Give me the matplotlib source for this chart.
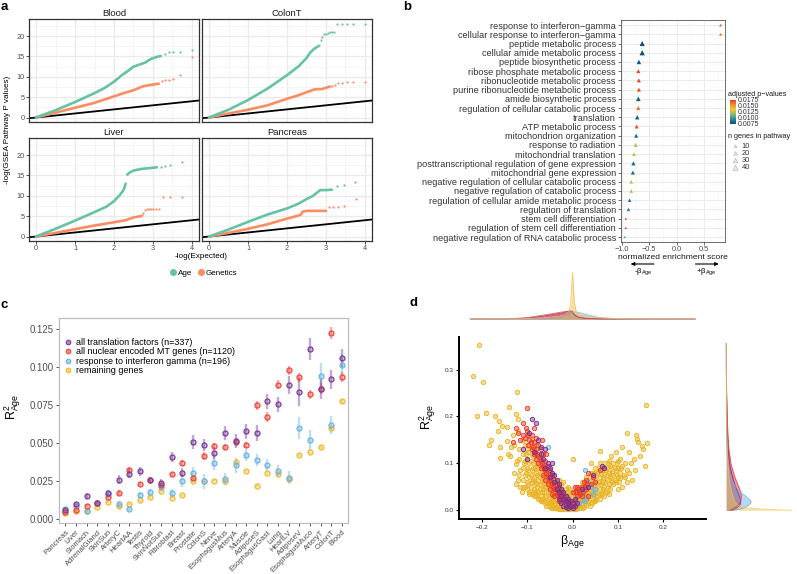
import numpy as np
import matplotlib
matplotlib.use('Agg')
import matplotlib.pyplot as plt
from matplotlib.colors import LinearSegmentedColormap, to_rgba
from matplotlib.lines import Line2D

plt.rcParams['font.family'] = ['Liberation Sans', 'DejaVu Sans']
plt.rcParams['mathtext.fontset'] = 'custom'
plt.rcParams['mathtext.rm'] = 'Liberation Sans'
plt.rcParams['mathtext.it'] = 'Liberation Sans:italic'
plt.rcParams['mathtext.bf'] = 'Liberation Sans:bold'
plt.rcParams['mathtext.default'] = 'regular'

nan = np.nan
W, H = 797, 574

# ---------------- Panel a data (QQ curves) ----------------
facets = ['Blood', 'ColonT', 'Liver', 'Pancreas']
blood_age_x = [0, 0.25, 0.5, 0.75, 1.0, 1.25, 1.5, 1.75, 2.0, 2.2, 2.35, 2.5, 2.65, 2.8, 2.95, 3.1, 3.2]
blood_age_y = [0, 0.9, 1.8, 2.8, 3.8, 4.9, 6.0, 7.2, 8.8, 10.4, 11.4, 12.5, 13.0, 13.5, 14.4, 14.9, 15.1]
blood_age_tx = [3.3, 3.4, 3.52, 3.7, 4.0]
blood_age_ty = [15.5, 16.2, 16.2, 16.2, 16.7]
blood_gen_x = [0, 0.5, 1.0, 1.5, 2.0, 2.25, 2.5, 2.75, 3.0, 3.15]
blood_gen_y = [0, 1.2, 2.4, 3.6, 5.2, 6.0, 6.7, 7.7, 8.1, 8.3]
blood_gen_tx = [3.22, 3.3, 3.4, 3.52, 3.7, 4.0]
blood_gen_ty = [9.0, 9.1, 9.2, 9.4, 10.4, 14.8]

colont_age_x = [0, 0.5, 1.0, 1.5, 2.0, 2.3, 2.5, 2.6, 2.7, 2.8]
colont_age_y = [0, 1.9, 4.3, 7.1, 10.4, 12.6, 14.6, 16.0, 16.9, 17.5]
colont_age_tx = [2.83, 2.87, 2.9, 2.95, 3.0, 3.05, 3.1, 3.15, 3.2, 3.29, 3.41, 3.53, 3.68, 4.0]
colont_age_ty = [17.8, 19.0, 19.9, 20.4, 20.6, 20.8, 20.9, 21.0, 21.0, 23.0, 23.0, 23.0, 23.0, 23.0]
colont_gen_x = [0, 0.5, 1.0, 1.5, 2.0, 2.3, 2.5, 2.7, 2.9, 3.0, 3.1]
colont_gen_y = [0, 1.0, 1.9, 3.0, 4.6, 5.5, 6.2, 6.9, 7.0, 7.3, 7.6]
colont_gen_tx = [3.15, 3.22, 3.3, 3.41, 3.53, 3.68, 4.0]
colont_gen_ty = [7.8, 8.0, 8.4, 8.6, 8.7, 8.8, 8.8]

liver_age_x = [0, 0.5, 1.0, 1.5, 1.8, 2.0, 2.15, 2.25, 2.3, nan, 2.34, 2.4, 2.5, 2.7, 3.0, 3.1]
liver_age_y = [0, 1.9, 3.9, 6.0, 7.3, 8.7, 10.2, 11.5, 13.0, nan, 15.2, 15.7, 16.2, 16.6, 16.9, 17.0]
liver_age_tx = [3.2, 3.3, 3.44, 3.74]
liver_age_ty = [17.1, 17.3, 17.5, 18.4]
liver_gen_x = [0, 0.5, 1.0, 1.5, 2.0, 2.3, 2.5, 2.7]
liver_gen_y = [0, 0.9, 1.8, 2.7, 3.5, 4.0, 4.7, 5.0]
liver_gen_tx = [2.72, 2.75, 2.8, 2.85, 2.9, 2.95, 3.0, 3.08, 3.15, 3.25, 3.44, 3.74]
liver_gen_ty = [5.3, 5.9, 6.6, 6.7, 6.7, 6.7, 6.7, 6.7, 6.8, 9.8, 9.8, 9.8]

pancreas_age_x = [0, 0.5, 1.0, 1.5, 2.0, 2.3, 2.5, 2.65, 2.8, 2.85, 3.0, 3.15]
pancreas_age_y = [0, 1.7, 3.6, 5.4, 6.9, 8.1, 9.2, 9.9, 11.0, 11.4, 11.4, 11.5]
pancreas_age_tx = [3.28, 3.47, 3.75]
pancreas_age_ty = [12.4, 12.7, 13.3]
pancreas_gen_x = [0, 0.5, 1.0, 1.5, 2.0, 2.2, 2.35, 2.4, 2.5, 3.0]
pancreas_gen_y = [0, 0.9, 1.9, 3.0, 4.4, 4.9, 5.3, 6.1, 6.3, 6.3]
pancreas_gen_tx = [3.07, 3.17, 3.3, 3.47, 3.77]
pancreas_gen_ty = [7.2, 7.2, 7.3, 7.5, 9.2]

# ---------------- Panel b data ----------------
terms = ['response to interferon\u2212gamma', 'cellular response to interferon\u2212gamma',
         'peptide metabolic process', 'cellular amide metabolic process',
         'peptide biosynthetic process', 'ribose phosphate metabolic process',
         'ribonucleotide metabolic process', 'purine ribonucleotide metabolic process',
         'amide biosynthetic process', 'regulation of cellular catabolic process',
         'translation', 'ATP metabolic process', 'mitochondrion organization',
         'response to radiation', 'mitochondrial translation',
         'posttranscriptional regulation of gene expression', 'mitochondrial gene expression',
         'negative regulation of cellular catabolic process', 'negative regulation of catabolic process',
         'regulation of cellular amide metabolic process', 'regulation of translation',
         'stem cell differentiation', 'regulation of stem cell differentiation',
         'negative regulation of RNA catabolic process']
nes = [0.80, 0.80, -0.63, -0.63, -0.69, -0.70, -0.69, -0.69, -0.70, -0.70, -0.72, -0.73,
       -0.74, -0.75, -0.78, -0.79, -0.80, -0.83, -0.83, -0.86, -0.88, -0.93, -0.93, -0.95]
padj = [0.0160, 0.0160, 0.0075, 0.0076, 0.0078, 0.0172, 0.0172, 0.0170, 0.0080, 0.0160, 0.0082, 0.0170,
        0.0085, 0.0123, 0.0126, 0.0085, 0.0085, 0.0125, 0.0125, 0.0088, 0.0088, 0.0175, 0.0175, 0.0090]
ngenes = [14, 14, 42, 44, 32, 26, 26, 26, 34, 28, 30, 24, 26, 24, 24, 28, 26, 22, 22, 20, 18, 8, 8, 6]

# ---------------- Panel c data ----------------
tissues = ['Pancreas', 'Liver', 'Stomach', 'AdrenalGland', 'SkinSun', 'ArteryC', 'HeartAA', 'Testis',
           'Thyroid', 'SkinNotSun', 'Fibroblast', 'Breast', 'Prostate', 'ColonS', 'Nerve', 'EsophagusMus',
           'ArteryA', 'Muscle', 'AdiposeS', 'EsophagusGast', 'Lung', 'HeartLV', 'AdiposeV', 'EsophagusMuco',
           'ArteryT', 'ColonT', 'Blood']
trans_r2 = [0.006, 0.0098, 0.0155, 0.0105, 0.0175, 0.026, 0.030, 0.0315, 0.026, 0.0237, 0.041, 0.0307,
            0.051, 0.049, 0.0435, 0.057, 0.0515, 0.058, 0.0567, 0.0777, 0.0757, 0.0883, 0.0837, 0.112,
            0.0857, 0.092, 0.1063]
trans_err = [0.001, 0.0015, 0.002, 0.0015, 0.0015, 0.003, 0.003, 0.003, 0.002, 0.003, 0.003, 0.003,
             0.0045, 0.004, 0.004, 0.0045, 0.0045, 0.005, 0.0055, 0.005, 0.005, 0.0057, 0.009, 0.0075,
             0.0066, 0.006, 0.006]
mt_r2 = [0.005, 0.006, 0.009, 0.0108, 0.015, 0.0175, 0.0325, 0.0232, 0.0262, 0.0225, 0.0295, 0.037,
         0.027, 0.0415, 0.0485, 0.0473, 0.051, 0.049, 0.075, 0.0673, 0.0885, 0.098, 0.0935, 0.0823,
         0.086, 0.1225, 0.0935]
mt_err = [0.0008, 0.001, 0.001, 0.001, 0.0012, 0.0015, 0.002, 0.0015, 0.0015, 0.0015, 0.0015, 0.002,
          0.002, 0.0025, 0.002, 0.002, 0.0025, 0.002, 0.003, 0.003, 0.003, 0.003, 0.003, 0.003,
          0.0035, 0.004, 0.0035]
ifn_r2 = [0.0065, 0.0085, 0.0053, 0.011, 0.0165, 0.0102, 0.0067, 0.016, 0.018, 0.021, 0.0173, 0.0255,
          0.0305, 0.025, 0.0373, 0.0265, 0.0355, 0.0423, 0.039, 0.036, 0.032, 0.0275, 0.060, 0.052,
          0.0943, 0.062, 0.1015]
ifn_err = [0.001, 0.0015, 0.001, 0.0015, 0.002, 0.002, 0.0015, 0.002, 0.002, 0.002, 0.0025, 0.004,
           0.004, 0.005, 0.005, 0.004, 0.005, 0.004, 0.004, 0.004, 0.004, 0.004, 0.007, 0.007,
           0.0088, 0.006, 0.007]
rem_r2 = [0.004, 0.0055, 0.0053, 0.0078, 0.0115, 0.0088, 0.010, 0.0125, 0.0147, 0.0185, 0.0142, 0.0157,
          0.025, 0.025, 0.0255, 0.0255, 0.038, 0.032, 0.022, 0.0307, 0.0295, 0.0265, 0.0423, 0.044,
          0.0473, 0.060, 0.0777]
rem_err = [0.0005] * 24 + [0.0008, 0.0015, 0.001]

# ---------------- Panel d data ----------------
yellow_pts = [
    (-0.205, 0.352), (-0.22, 0.287), (-0.197, 0.273), (-0.122, 0.252), (0.162, 0.224), (-0.21, 0.2),
    (-0.19, 0.207), (-0.139, 0.22), (-0.17, 0.202), (-0.162, 0.19), (-0.155, 0.18), (-0.145, 0.178),
    (-0.125, 0.206), (-0.12, 0.195), (-0.185, 0.139), (-0.18, 0.15), (-0.165, 0.168), (-0.16, 0.135),
    (-0.16, 0.112), (-0.145, 0.147), (-0.142, 0.12), (-0.138, 0.115), (-0.125, 0.098), (-0.12, 0.17),
    (-0.13, 0.16), (-0.135, 0.135), (-0.128, 0.14), (-0.128, 0.08), (-0.118, 0.13), (-0.118, 0.11),
    (-0.115, 0.085), (-0.12, 0.065), (-0.115, 0.05), (-0.125, 0.055),
    (0.14, 0.16), (0.142, 0.152), (0.165, 0.143), (0.145, 0.145), (0.12, 0.165), (0.155, 0.13),
    (0.148, 0.115), (0.152, 0.137), (0.16, 0.095), (0.138, 0.085), (0.128, 0.1), (0.125, 0.125),
    (0.12, 0.085), (0.11, 0.135), (0.105, 0.11), (0.1, 0.09), (0.095, 0.125), (0.085, 0.115),
    (0.09, 0.075), (0.13, 0.065), (0.12, 0.06), (0.11, 0.05), (0.105, 0.068), (0.1, 0.045),
    (0.125, 0.08), (0.135, 0.11), (0.0, 0.109), (0.06, 0.126),
    (-0.11, 0.15), (-0.11, 0.12), (-0.11, 0.09), (-0.11, 0.065), (-0.108, 0.05), (-0.105, 0.14),
    (-0.105, 0.105), (-0.105, 0.075), (-0.1, 0.16), (-0.1, 0.13), (-0.1, 0.11), (-0.1, 0.09),
    (-0.1, 0.06), (-0.1, 0.045), (-0.095, 0.14), (-0.095, 0.1), (-0.095, 0.07), (-0.095, 0.04),
    (-0.09, 0.15), (-0.09, 0.12), (-0.09, 0.085), (-0.09, 0.06), (-0.09, 0.035), (-0.085, 0.13),
    (-0.085, 0.1), (-0.085, 0.07), (-0.085, 0.045), (-0.085, 0.03), (-0.08, 0.14), (-0.08, 0.11),
    (-0.08, 0.08), (-0.08, 0.055), (-0.08, 0.03), (-0.075, 0.12), (-0.075, 0.09), (-0.075, 0.065),
    (-0.075, 0.04), (-0.075, 0.025), (-0.07, 0.11), (-0.07, 0.08), (-0.07, 0.055), (-0.07, 0.03),
    (-0.07, 0.02), (-0.065, 0.1), (-0.065, 0.07), (-0.065, 0.045), (-0.065, 0.025), (-0.06, 0.095),
    (-0.06, 0.075), (-0.06, 0.05), (-0.06, 0.03), (-0.06, 0.015), (-0.055, 0.085), (-0.055, 0.06),
    (-0.055, 0.04), (-0.055, 0.02), (-0.05, 0.08), (-0.05, 0.055), (-0.05, 0.035), (-0.05, 0.015),
    (-0.045, 0.07), (-0.045, 0.045), (-0.045, 0.025), (-0.045, 0.01), (-0.04, 0.075), (-0.04, 0.05),
    (-0.04, 0.03), (-0.04, 0.012), (-0.035, 0.06), (-0.035, 0.04), (-0.035, 0.02), (-0.035, 0.008),
    (-0.03, 0.065), (-0.03, 0.045), (-0.03, 0.025), (-0.03, 0.008), (-0.025, 0.055), (-0.025, 0.035),
    (-0.025, 0.015), (-0.02, 0.06), (-0.02, 0.04), (-0.02, 0.02), (-0.02, 0.005), (-0.015, 0.045),
    (-0.015, 0.025), (-0.015, 0.008), (-0.01, 0.05), (-0.01, 0.03), (-0.01, 0.01), (-0.005, 0.035),
    (-0.005, 0.015), (-0.005, 0.003), (0.0, 0.04), (0.0, 0.02), (0.0, 0.005),
    (0.005, 0.03), (0.005, 0.01), (0.01, 0.045), (0.01, 0.02), (0.01, 0.005), (0.015, 0.05),
    (0.015, 0.03), (0.015, 0.01), (0.02, 0.06), (0.02, 0.035), (0.02, 0.015), (0.025, 0.045),
    (0.025, 0.025), (0.025, 0.008), (0.03, 0.07), (0.03, 0.05), (0.03, 0.03), (0.03, 0.012),
    (0.035, 0.06), (0.035, 0.04), (0.035, 0.02), (0.04, 0.08), (0.04, 0.055), (0.04, 0.035),
    (0.04, 0.015), (0.045, 0.07), (0.045, 0.045), (0.045, 0.025), (0.05, 0.09), (0.05, 0.065),
    (0.05, 0.04), (0.05, 0.02), (0.055, 0.08), (0.055, 0.055), (0.055, 0.03), (0.06, 0.1),
    (0.06, 0.07), (0.06, 0.045), (0.06, 0.025), (0.065, 0.085), (0.065, 0.06), (0.065, 0.035),
    (0.07, 0.1), (0.07, 0.075), (0.07, 0.05), (0.07, 0.03), (0.075, 0.09), (0.075, 0.065),
    (0.075, 0.04), (0.08, 0.105), (0.08, 0.08), (0.08, 0.055), (0.08, 0.035), (0.085, 0.09),
    (0.085, 0.065), (0.09, 0.1), (0.09, 0.055), (0.095, 0.085), (0.095, 0.06), (0.1, 0.07),
    (0.1, 0.105), (0.105, 0.08), (0.11, 0.095), (0.115, 0.07), (0.04, 0.1),
    (-0.1075, 0.1), (-0.1025, 0.08), (-0.1025, 0.12), (-0.0975, 0.055), (-0.0975, 0.085),
    (-0.0975, 0.125), (-0.0925, 0.05), (-0.0925, 0.075), (-0.0925, 0.105), (-0.0925, 0.135),
    (-0.0875, 0.04), (-0.0875, 0.065), (-0.0875, 0.09), (-0.0875, 0.115), (-0.0825, 0.04),
    (-0.0825, 0.06), (-0.0825, 0.09), (-0.0825, 0.12), (-0.0775, 0.035), (-0.0775, 0.05),
    (-0.0775, 0.075), (-0.0775, 0.1), (-0.0725, 0.025), (-0.0725, 0.045), (-0.0725, 0.07),
    (-0.0725, 0.095), (-0.0675, 0.02), (-0.0675, 0.04), (-0.0675, 0.06), (-0.0675, 0.085),
    (-0.0625, 0.02), (-0.0625, 0.04), (-0.0625, 0.06), (-0.0625, 0.085), (-0.0575, 0.01),
    (-0.0575, 0.03), (-0.0575, 0.05), (-0.0575, 0.07), (-0.0525, 0.01), (-0.0525, 0.025),
    (-0.0525, 0.045), (-0.0525, 0.07), (-0.0475, 0.005), (-0.0475, 0.02), (-0.0475, 0.04),
    (-0.0475, 0.06), (-0.0425, 0.005), (-0.0425, 0.02), (-0.0425, 0.04), (-0.0425, 0.06),
    (-0.0375, 0.005), (-0.0375, 0.015), (-0.0375, 0.03), (-0.0375, 0.05), (-0.0325, 0.003),
    (-0.0325, 0.015), (-0.0325, 0.035), (-0.0325, 0.055), (-0.0275, 0.003), (-0.0275, 0.02),
    (-0.0275, 0.045), (-0.0225, 0.003), (-0.0225, 0.025), (-0.0225, 0.045), (-0.0175, 0.003),
    (-0.0175, 0.015), (-0.0175, 0.035), (-0.0125, 0.002), (-0.0125, 0.02), (-0.0125, 0.04),
    (-0.0075, 0.002), (-0.0075, 0.025), (-0.0075, 0.045), (-0.0025, 0.01), (-0.0025, 0.03),
    (0.0025, 0.002), (0.0025, 0.02), (0.0025, 0.04), (0.0075, 0.002), (0.0075, 0.015),
    (0.0075, 0.035), (0.0125, 0.01), (0.0125, 0.025), (0.0125, 0.04), (0.0175, 0.005),
    (0.0175, 0.02), (0.0175, 0.04), (0.0225, 0.005), (0.0225, 0.025), (0.0225, 0.05),
    (0.0275, 0.015), (0.0275, 0.035), (0.0275, 0.055), (0.0325, 0.02), (0.0325, 0.04),
    (0.0325, 0.06), (0.0375, 0.01), (0.0375, 0.03), (0.0375, 0.05), (0.0375, 0.07),
    (0.0425, 0.015), (0.0425, 0.04), (0.0425, 0.06), (0.0425, 0.08), (0.0475, 0.02),
    (0.0475, 0.035), (0.0475, 0.055), (0.0475, 0.08), (0.0525, 0.025), (0.0525, 0.045),
    (0.0525, 0.075), (0.0575, 0.035), (0.0575, 0.06), (0.0575, 0.09), (0.0625, 0.035),
    (0.0625, 0.055), (0.0625, 0.08), (0.0675, 0.045), (0.0675, 0.07), (0.0675, 0.09),
    (0.0725, 0.04), (0.0725, 0.06), (0.0725, 0.085), (0.0775, 0.05), (0.0775, 0.075),
    (0.0775, 0.1), (0.0825, 0.045), (0.0825, 0.07), (0.0825, 0.095), (0.0875, 0.06),
    (0.0875, 0.08), (0.0925, 0.065), (0.0925, 0.09), (0.0975, 0.075), (0.0975, 0.1),
    (0.1025, 0.06), (0.1075, 0.09), (0.1125, 0.075), (0.115, 0.1), (-0.105, 0.05),
    (-0.112, 0.04), (-0.095, 0.035), (-0.118, 0.075), (-0.122, 0.105)]
red_pts = [
    (-0.1, 0.217), (-0.125, 0.175), (-0.12, 0.165), (-0.11, 0.185), (-0.105, 0.155), (-0.1, 0.17),
    (-0.095, 0.15), (-0.098, 0.14), (-0.09, 0.16), (-0.09, 0.13), (-0.085, 0.145), (-0.085, 0.12),
    (-0.08, 0.155), (-0.08, 0.13), (-0.08, 0.11), (-0.075, 0.14), (-0.075, 0.115), (-0.075, 0.1),
    (-0.07, 0.13), (-0.07, 0.105), (-0.07, 0.09), (-0.065, 0.12), (-0.065, 0.095), (-0.065, 0.075),
    (-0.06, 0.105), (-0.06, 0.085), (-0.06, 0.065), (-0.055, 0.095), (-0.055, 0.075), (-0.055, 0.055),
    (-0.05, 0.085), (-0.05, 0.065), (-0.05, 0.045), (-0.045, 0.075), (-0.045, 0.055), (-0.045, 0.035),
    (-0.04, 0.065), (-0.04, 0.045), (-0.04, 0.03), (-0.035, 0.055), (-0.035, 0.035), (-0.03, 0.05),
    (-0.03, 0.03), (-0.03, 0.02), (-0.025, 0.04), (-0.025, 0.025), (-0.02, 0.035), (-0.02, 0.02),
    (-0.015, 0.03), (-0.015, 0.015), (-0.01, 0.025), (-0.01, 0.01), (-0.005, 0.02), (0.0, 0.01),
    (0.005, 0.02), (0.01, 0.03), (0.01, 0.05), (0.015, 0.04), (0.02, 0.05), (0.02, 0.03),
    (0.025, 0.06), (0.03, 0.045), (0.03, 0.065), (0.035, 0.08), (0.04, 0.055), (0.045, 0.07),
    (0.05, 0.06), (0.06, 0.085), (0.035, 0.03), (-0.13, 0.145), (-0.085, 0.175), (0.0, 0.04),
    (0.005, 0.05), (-0.068, 0.15), (-0.058, 0.12),
    (-0.0925, 0.145), (-0.0875, 0.135), (-0.0825, 0.125), (-0.0775, 0.12), (-0.0725, 0.11),
    (-0.0675, 0.1), (-0.0625, 0.09), (-0.0575, 0.08), (-0.0525, 0.07), (-0.0475, 0.06),
    (-0.0425, 0.05), (-0.0375, 0.045), (-0.0325, 0.04), (-0.0275, 0.035), (-0.0225, 0.03),
    (-0.0175, 0.025), (-0.0125, 0.02), (-0.0075, 0.015), (0.0075, 0.04), (0.0125, 0.045),
    (0.0175, 0.035), (0.0225, 0.04), (0.0275, 0.05), (0.0325, 0.055), (-0.0975, 0.16),
    (-0.1025, 0.175), (-0.11, 0.16), (-0.115, 0.15)]
purple_pts = [
    (-0.09, 0.195), (-0.08, 0.186), (-0.095, 0.165), (-0.075, 0.15), (-0.07, 0.135), (-0.085, 0.125),
    (-0.06, 0.13), (-0.065, 0.11), (-0.055, 0.1), (-0.06, 0.09), (-0.05, 0.09), (-0.045, 0.08),
    (-0.05, 0.07), (-0.04, 0.075), (-0.04, 0.06), (-0.035, 0.065), (-0.035, 0.045), (-0.03, 0.055),
    (-0.03, 0.04), (-0.03, 0.025), (-0.025, 0.045), (-0.025, 0.03), (-0.025, 0.015), (-0.02, 0.04),
    (-0.02, 0.025), (-0.02, 0.01), (-0.015, 0.03), (-0.015, 0.02), (-0.015, 0.008), (-0.01, 0.025),
    (-0.01, 0.015), (-0.01, 0.005), (-0.005, 0.02), (-0.005, 0.01), (0.0, 0.015), (0.0, 0.005),
    (0.005, 0.01), (0.005, 0.025), (0.01, 0.015), (-0.045, 0.1), (-0.07, 0.12), (0.045, 0.075),
    (0.065, 0.095), (0.07, 0.09), (0.035, 0.05), (-0.1, 0.11), (-0.11, 0.13), (0.02, 0.045)]
blue_pts = [
    (0.01, 0.03), (0.02, 0.04), (0.03, 0.025), (0.04, 0.05), (0.045, 0.035), (-0.005, 0.02),
    (0.025, 0.02), (0.035, 0.06), (0.05, 0.045), (-0.055, 0.135), (-0.02, 0.03), (0.015, 0.015),
    (0.028, 0.085)]

# marginal densities (relative heights)
beta_grid = [-0.225, -0.15, -0.1, -0.06, -0.03, -0.015, -0.008, -0.004, -0.002, 0.0, 0.002, 0.004,
             0.008, 0.015, 0.03, 0.06, 0.1, 0.15, 0.2, 0.27]
dens_beta_yellow = [0, 0.003, 0.01, 0.03, 0.06, 0.09, 0.16, 0.35, 0.7, 1.0, 0.7, 0.35, 0.16, 0.09,
                    0.06, 0.03, 0.01, 0.004, 0.001, 0]
dens_beta_red = [0, 0.002, 0.03, 0.09, 0.14, 0.16, 0.16, 0.15, 0.15, 0.14, 0.12, 0.1, 0.07, 0.04,
                 0.015, 0.003, 0, 0, 0, 0]
dens_beta_purple = [0, 0, 0.02, 0.07, 0.12, 0.15, 0.17, 0.17, 0.17, 0.16, 0.12, 0.09, 0.06, 0.03,
                    0.01, 0.002, 0, 0, 0, 0]
dens_beta_blue = [0, 0, 0, 0.005, 0.03, 0.07, 0.1, 0.12, 0.13, 0.14, 0.15, 0.15, 0.15, 0.14, 0.1,
                  0.03, 0.005, 0, 0, 0]
r2_grid = [0, 0.002, 0.005, 0.01, 0.015, 0.02, 0.03, 0.04, 0.06, 0.08, 0.1, 0.13, 0.16, 0.2, 0.25,
           0.3, 0.355]
dens_r2_yellow = [1.0, 0.6, 0.3, 0.18, 0.15, 0.12, 0.1, 0.08, 0.05, 0.035, 0.025, 0.015, 0.01,
                  0.006, 0.004, 0.002, 0]
dens_r2_blue = [0.1, 0.2, 0.27, 0.33, 0.37, 0.38, 0.3, 0.2, 0.1, 0.05, 0.025, 0.01, 0.004, 0.001,
                0, 0, 0]
dens_r2_red = [0.05, 0.08, 0.12, 0.17, 0.2, 0.22, 0.23, 0.22, 0.16, 0.11, 0.07, 0.04, 0.025, 0.015,
               0.005, 0.001, 0]
dens_r2_purple = [0.08, 0.12, 0.16, 0.2, 0.22, 0.22, 0.2, 0.17, 0.12, 0.08, 0.05, 0.03, 0.02, 0.01,
                  0.003, 0, 0]

# ---------------- Figure ----------------
fig = plt.figure(figsize=(W / 100, H / 100), dpi=100)


def px_axes(x0, y0, x1, y1):
    return fig.add_axes([x0 / W, 1 - y1 / H, (x1 - x0) / W, (y1 - y0) / H])


def fpos(x, y):
    return (x / W, 1 - y / H)


AGE_C = '#66C2A5'
GEN_C = '#FC8D62'

# ---- Panel a ----
facet_boxes = [(29, 19, 199, 122), (202, 19, 372, 122), (29, 138, 199, 241), (202, 138, 372, 241)]
facet_data = [
    (blood_age_x, blood_age_y, blood_age_tx, blood_age_ty, blood_gen_x, blood_gen_y, blood_gen_tx, blood_gen_ty),
    (colont_age_x, colont_age_y, colont_age_tx, colont_age_ty, colont_gen_x, colont_gen_y, colont_gen_tx, colont_gen_ty),
    (liver_age_x, liver_age_y, liver_age_tx, liver_age_ty, liver_gen_x, liver_gen_y, liver_gen_tx, liver_gen_ty),
    (pancreas_age_x, pancreas_age_y, pancreas_age_tx, pancreas_age_ty, pancreas_gen_x, pancreas_gen_y, pancreas_gen_tx, pancreas_gen_ty),
]
for k, (name, box, d) in enumerate(zip(facets, facet_boxes, facet_data)):
    ax = px_axes(*box)
    ax.set_xlim(-0.18, 4.18)
    ax.set_ylim(-1.1, 24.2)
    ax.set_xticks([0, 1, 2, 3, 4])
    ax.set_xticks([0.5, 1.5, 2.5, 3.5], minor=True)
    ax.set_yticks([0, 5, 10, 15, 20])
    ax.set_yticks([2.5, 7.5, 12.5, 17.5, 22.5], minor=True)
    ax.grid(which='major', color='#EBEBEB', lw=1.0)
    ax.grid(which='minor', color='#F2F2F2', lw=0.5)
    ax.set_axisbelow(True)
    for s in ax.spines.values():
        s.set_color('#333333')
        s.set_linewidth(0.9)
    ax.tick_params(which='minor', length=0)
    ax.tick_params(which='major', length=2, width=0.6, color='#333333', labelsize=5.3,
                   labelcolor='#4D4D4D', pad=1)
    if k < 2:
        ax.tick_params(axis='x', labelbottom=False, length=0)
    if k % 2 == 1:
        ax.tick_params(axis='y', labelleft=False, length=0)
    ax.plot([-0.3, 4.3], [-0.3, 4.3], color='black', lw=1.3, zorder=2)
    ax_x, ax_y, ax_tx, ax_ty, gx, gy, gtx, gty = d
    ax.plot(gx, gy, color=GEN_C, lw=1.9, solid_capstyle='round', zorder=3)
    ax.scatter(gtx, gty, s=2.5, color=GEN_C, lw=0, zorder=3)
    ax.plot(ax_x, ax_y, color=AGE_C, lw=1.9, solid_capstyle='round', zorder=3)
    ax.scatter(ax_tx, ax_ty, s=2.5, color=AGE_C, lw=0, zorder=3)
    ax.set_title(name, fontsize=6.8, pad=2.5, color='#1A1A1A')

fig.text(*fpos(8, 130), '-log(GSEA Pathway P values)', rotation=90, fontsize=5.9, ha='center', va='center')
fig.text(*fpos(201, 257), '-log(Expected)', fontsize=5.9, ha='center', va='center')
leg_handles = [Line2D([], [], marker='o', ls='', color=AGE_C, ms=4),
               Line2D([], [], marker='o', ls='', color=GEN_C, ms=4)]
fig.legend(leg_handles, ['Age', 'Genetics'], loc='center', bbox_to_anchor=fpos(203, 273), ncol=2,
           frameon=False, fontsize=5.8, handletextpad=0.1, columnspacing=0.6, handlelength=1.0)

# ---- Panel b ----
axb = px_axes(620.7, 20, 725, 241.7)
rows = np.arange(len(terms))
pcmap = LinearSegmentedColormap.from_list('pv', ['#0B4F79', '#2A8C99', '#8DBB6A', '#F2C634', '#EE8A2B', '#E33B26'])
sizes_b = [0.33 * n for n in ngenes]
sc = axb.scatter(nes, rows, s=sizes_b, c=padj, cmap=pcmap, vmin=0.0075, vmax=0.0175, marker='^',
                 linewidths=0, zorder=3)
axb.set_xlim(-1.022, 0.881)
axb.set_ylim(23.5, -0.55)
axb.set_yticks(rows)
axb.set_yticklabels(terms)
axb.set_xticks([-1.0, -0.5, 0.0, 0.5])
axb.set_xticklabels(['\u22121.0', '\u22120.5', '0.0', '0.5'])
axb.set_xticks([-0.75, -0.25, 0.25, 0.75], minor=True)
axb.grid(which='major', color='#EBEBEB', lw=0.7)
axb.grid(which='minor', axis='x', color='#F4F4F4', lw=0.4)
axb.set_axisbelow(True)
for s in axb.spines.values():
    s.set_color('#555555')
    s.set_linewidth(0.6)
axb.tick_params(which='minor', length=0)
axb.tick_params(axis='y', length=2, width=0.5, pad=1.5, labelsize=6.55, color='#333333', labelcolor='#333333')
axb.tick_params(axis='x', length=2, width=0.5, pad=1, labelsize=5.3, color='#333333', labelcolor='#4D4D4D')
fig.text(*fpos(673, 257.3), 'normalized enrichment score', fontsize=6.1, ha='center', va='center', color='#1A1A1A')
fig.patches.append(matplotlib.patches.FancyArrowPatch(fpos(656.7, 264), fpos(627.7, 264),
                   transform=fig.transFigure, arrowstyle='-|>,head_length=2.2,head_width=1.0',
                   mutation_scale=1, lw=0.8, color='black'))
fig.patches.append(matplotlib.patches.FancyArrowPatch(fpos(692.7, 264), fpos(721.7, 264),
                   transform=fig.transFigure, arrowstyle='-|>,head_length=2.2,head_width=1.0',
                   mutation_scale=1, lw=0.8, color='black'))
fig.text(*fpos(643, 272), r'-$\beta_{Age}$', fontsize=5.6, ha='center', va='center')
fig.text(*fpos(706, 272), r'+$\beta_{Age}$', fontsize=5.6, ha='center', va='center')

# colorbar legend
fig.text(*fpos(728, 94), 'adjusted p\u2212values', fontsize=5.2, ha='left', va='center', color='#1A1A1A')
cax = px_axes(730, 99.5, 736, 124)
cb = fig.colorbar(sc, cax=cax, ticks=[0.0075, 0.0100, 0.0125, 0.0150, 0.0175])
cb.ax.set_yticklabels(['0.0075', '0.0100', '0.0125', '0.0150', '0.0175'])
cb.outline.set_visible(False)
cax.tick_params(labelsize=5.0, length=0, pad=1, labelcolor='#333333')
# size legend
fig.text(*fpos(728, 137), 'n genes in pathway', fontsize=5.2, ha='left', va='center', color='#1A1A1A')
lax = px_axes(728, 142, 797, 172)
lax.set_axis_off()
lax.set_xlim(0, 1)
lax.set_ylim(4.6, 0.4)
size_levels = [10, 20, 30, 40]
lax.scatter([0.11] * 4, [1, 2, 3, 4], s=[0.33 * n for n in size_levels], marker='^',
            facecolor='#EDEDED', edgecolor='#A8A8A8', linewidths=0.4)
for i, n in enumerate(size_levels):
    lax.text(0.2, i + 1, str(n), fontsize=5.4, va='center', ha='left', color='#333333')

# ---- Panel c ----
axc = px_axes(59, 318.3, 348.3, 523.3)
xc = np.arange(len(tissues))
groups_c = [
    ('remaining genes', rem_r2, rem_err, '#EFB92E'),
    ('response to interferon gamma (n=196)', ifn_r2, ifn_err, '#6CB4E4'),
    ('all nuclear encoded MT genes (n=1120)', mt_r2, mt_err, '#F0463C'),
    ('all translation factors (n=337)', trans_r2, trans_err, '#7D3C98'),
]
for lab, vals, errs, col in groups_c:
    axc.errorbar(xc, vals, yerr=errs, fmt='none', ecolor=to_rgba(col, 0.45), elinewidth=1.7, capsize=0, zorder=2)
    axc.scatter(xc, vals, s=13, facecolors=[to_rgba(col, 0.3)], edgecolors=[col], linewidths=0.9, zorder=3)
axc.set_xlim(-0.6, 26.6)
axc.set_ylim(-0.0026, 0.1322)
axc.set_yticks([0, 0.025, 0.05, 0.075, 0.1, 0.125])
axc.set_yticklabels(['0.000', '0.025', '0.050', '0.075', '0.100', '0.125'])
axc.set_xticks(xc)
axc.set_xticklabels(tissues, rotation=45, ha='right', rotation_mode='anchor')
for s in axc.spines.values():
    s.set_color('#BDBDBD')
    s.set_linewidth(0.9)
axc.tick_params(axis='y', length=2.5, width=0.6, color='#333333', labelsize=6.9, labelcolor='#4D4D4D', pad=1.5)
axc.tick_params(axis='x', length=2.5, width=0.6, color='#333333', labelsize=5.5, labelcolor='#4D4D4D', pad=1.5)
fig.text(*fpos(13, 407), r'$R^2_{Age}$', rotation=90, fontsize=9, ha='center', va='center')
hand_c = [Line2D([], [], marker='o', ls='', ms=3.3, mfc=to_rgba(col, 0.6), mec=col, mew=0.8)
          for lab, vals, errs, col in groups_c[::-1]]
axc.legend(hand_c, [g[0] for g in groups_c[::-1]], loc='upper left', bbox_to_anchor=(0.015, 0.905),
           frameon=False, fontsize=6.5, handlelength=1.0, handletextpad=0.35, labelspacing=0.05,
           borderpad=0, borderaxespad=0)

# ---- Panel d ----
axd = px_axes(459, 336.7, 706, 519)
d_groups = [(yellow_pts, '#E9B526'), (blue_pts, '#6FB3DC'), (red_pts, '#EE3B2B'), (purple_pts, '#7B2D8E')]
for pts, col in d_groups:
    arr = np.array(pts)
    axd.scatter(arr[:, 0], arr[:, 1], s=10, facecolors=[to_rgba(col, 0.45)], edgecolors=[col],
                linewidths=0.65, zorder=3)
axd.set_xlim(-0.25, 0.294)
axd.set_ylim(-0.0186, 0.37)
axd.set_xticks([-0.2, -0.1, 0.0, 0.1, 0.2])
axd.set_xticklabels(['\u22120.2', '\u22120.1', '0.0', '0.1', '0.2'])
axd.set_yticks([0.0, 0.1, 0.2, 0.3])
for side in ['top', 'right']:
    axd.spines[side].set_visible(False)
for side in ['left', 'bottom']:
    axd.spines[side].set_linewidth(1.4)
    axd.spines[side].set_color('black')
axd.tick_params(length=2.5, width=0.8, labelsize=4.6, pad=1.5, labelcolor='#333333')
fig.text(*fpos(572, 541.7), r'$\beta_{Age}$', fontsize=9, ha='center', va='center')
fig.text(*fpos(428, 416.7), r'$R^2_{Age}$', rotation=90, fontsize=9, ha='center', va='center')

m_cols = [('#7B2D8E', dens_beta_purple, dens_r2_purple), ('#EE3B3B', dens_beta_red, dens_r2_red),
          ('#74B3E0', dens_beta_blue, dens_r2_blue), ('#F2C14E', dens_beta_yellow, dens_r2_yellow)]
axt = px_axes(459, 272, 706, 320)
axt.set_axis_off()
axt.set_xlim(-0.25, 0.294)
axt.set_ylim(-0.02, 1.0)
for col, db, dr in m_cols:
    axt.fill_between(beta_grid, 0, db, color=col, alpha=0.5, lw=0)
    axt.plot(beta_grid, db, color=col, lw=0.6, alpha=0.8)
axr = px_axes(725, 336.7, 797, 519)
axr.set_axis_off()
axr.set_ylim(-0.0186, 0.37)
axr.set_xlim(-0.02, 1.08)
for col, db, dr in m_cols:
    axr.fill_betweenx(r2_grid, 0, dr, color=col, alpha=0.5, lw=0)
    axr.plot(dr, r2_grid, color=col, lw=0.6, alpha=0.8)

# panel letters
for letter, (lx, ly) in zip('abcd', [(4, 7), (407, 7), (4, 305), (413, 303)]):
    fig.text(*fpos(lx, ly), letter, fontsize=9.5, fontweight='bold', ha='center', va='center')

fig.savefig('out.png', dpi=100)
